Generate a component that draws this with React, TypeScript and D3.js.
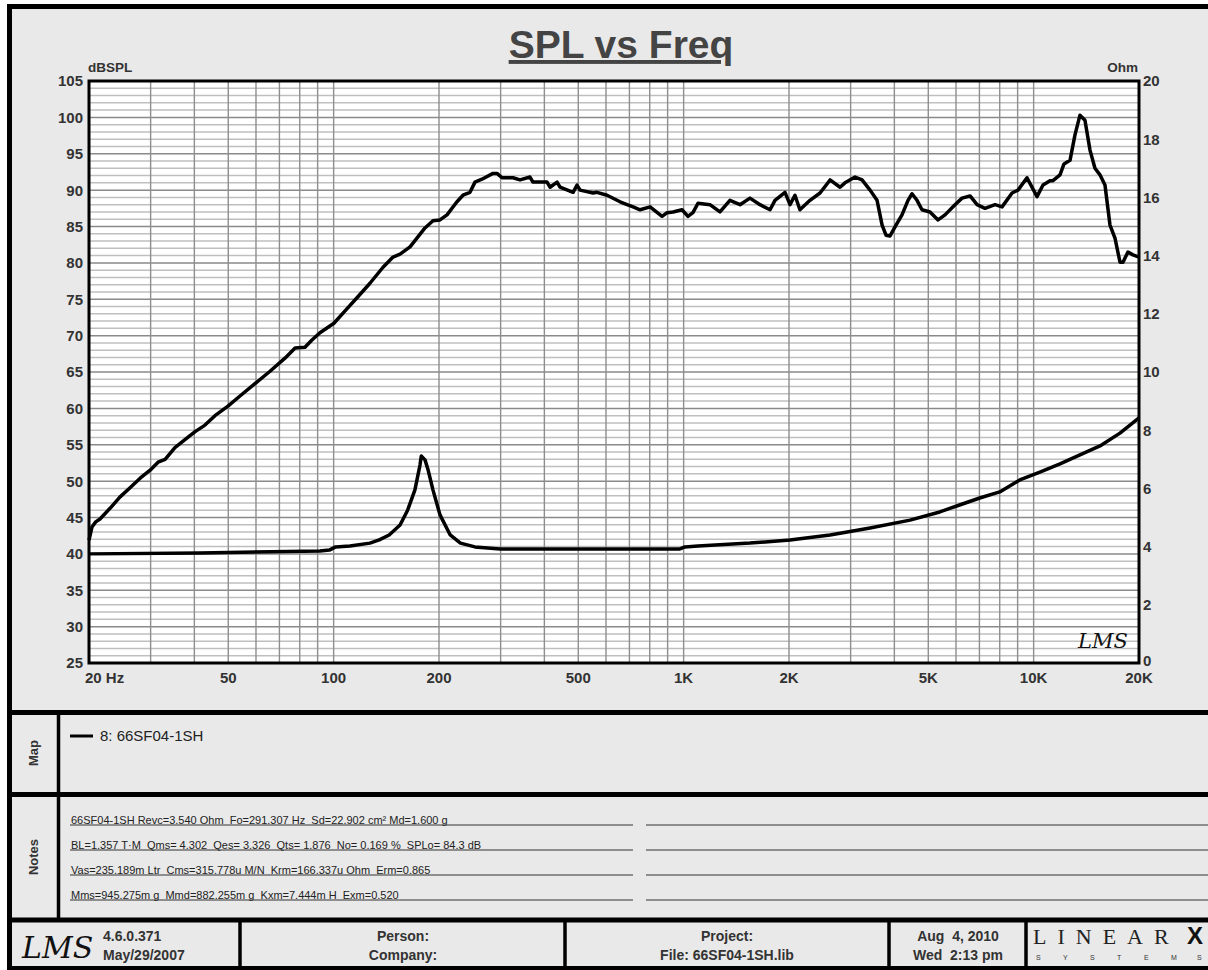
import React from "react";
import * as d3 from "d3";

// SPL curve (Hz / dBSPL)
const splFreq = [
  20, 20.4, 20.9, 21.5, 23.0, 24.5, 26.2, 28.0, 29.9, 31.5, 33.0, 35.2, 37.6, 40.2, 42.9, 45.8,
  49.9, 54.0, 59.6, 65.8, 72.6, 77.6, 82.8, 86.7, 91.4, 100.2, 107.8, 116.6, 127.0, 138.4, 147.8,
  154.8, 165.3, 182.4, 192.2, 201.3, 210.8, 225.1, 234.2, 245.2, 253.4, 265.3, 285.3, 292.9, 302.7,
  325.4, 340.8, 363.9, 371.2, 407.1, 415.2, 434.8, 443.5, 483.2, 495.9, 505.9, 551.0, 565.7, 604.0,
  658.2, 689.3, 717.1, 750.9, 801.9, 867.7, 896.6, 932.7, 989.6, 1029, 1063, 1099, 1189, 1270, 1356,
  1449, 1547, 1653, 1765, 1824, 1948, 2013, 2080, 2149, 2296, 2453, 2620, 2798, 2891, 3088, 3234,
  3409, 3570, 3690, 3786, 3888, 4044, 4206, 4376, 4493, 4643, 4798, 5057, 5332, 5583, 5961, 6243,
  6582, 6892, 7262, 7758, 8123, 8677, 9023, 9572, 10224, 10635, 11136, 11358, 11893, 12210, 12703,
  13126, 13564, 14016, 14488, 14970, 15472, 15989, 16524, 17078, 17648, 18000, 18600, 19220, 20000,
];
const splDb = [
  41.9, 43.7, 44.4, 44.8, 46.3, 47.8, 49.1, 50.4, 51.5, 52.6, 53.0, 54.6, 55.7, 56.8, 57.7, 59.0,
  60.3, 61.7, 63.4, 65.1, 66.9, 68.3, 68.4, 69.4, 70.4, 71.7, 73.4, 75.2, 77.2, 79.4, 80.8,
  81.2, 82.2, 84.8, 85.8, 85.9, 86.6, 88.4, 89.3, 89.7, 91.1, 91.5, 92.3, 92.3, 91.7,
  91.7, 91.4, 91.8, 91.1, 91.1, 90.4, 91.1, 90.4, 89.7, 90.7, 90.0, 89.6, 89.7, 89.3,
  88.4, 88.0, 87.7, 87.3, 87.7, 86.4, 86.9, 87.0, 87.3, 86.4, 86.9, 88.2, 88.0, 87.0, 88.6,
  88.0, 88.9, 88.0, 87.3, 88.6, 89.7, 88.0, 89.3, 87.3, 88.6, 89.6, 91.4, 90.4, 91.0, 91.8, 91.4,
  90.0, 88.6, 85.2, 83.8, 83.7, 85.2, 86.6, 88.6, 89.5, 88.6, 87.3, 87.0, 85.9, 86.6, 88.0, 88.9,
  89.2, 88.0, 87.5, 88.0, 87.7, 89.6, 90.0, 91.7, 89.1, 90.7, 91.3, 91.3, 92.1, 93.6, 94.1,
  97.6, 100.3, 99.6, 95.5, 93.0, 92.1, 90.7, 85.2, 83.4, 80.1, 80.1, 81.5, 81.1, 80.8,
];

// impedance curve (Hz / Ohm)
const zFreq = [
  20, 41.5, 91.4, 97.2, 101.3, 111.3, 127.0, 135.0, 144.1, 154.8, 162.8, 170.7, 176.5, 178,
  182.4, 186.2, 192.2, 201.3, 215.3, 230.3, 253.4, 298.9, 577, 976, 1009, 1099, 1547, 2013, 2620,
  3409, 4435, 5393, 6142, 7012, 8000, 9130, 10420, 11893, 13564, 15472, 17648, 20000,
];
const zOhm = [
  3.75, 3.78, 3.85, 3.88, 3.99, 4.02, 4.12, 4.23, 4.4, 4.74, 5.26, 5.95, 6.8, 7.11,
  6.98, 6.63, 5.95, 5.09, 4.4, 4.12, 3.99, 3.92, 3.92, 3.92, 3.99, 4.02, 4.12, 4.23, 4.4,
  4.64, 4.91, 5.19, 5.43, 5.67, 5.88, 6.29, 6.56, 6.84, 7.15, 7.46, 7.9, 8.42,
];

const freqTicks = [20, 50, 100, 200, 500, 1000, 2000, 5000, 10000, 20000];
const freqLabels = ["20 Hz", "50", "100", "200", "500", "1K", "2K", "5K", "10K", "20K"];
const dbTicks = [25, 30, 35, 40, 45, 50, 55, 60, 65, 70, 75, 80, 85, 90, 95, 100, 105];
const ohmTicks = [0, 2, 4, 6, 8, 10, 12, 14, 16, 18, 20];

const legendLabel = "8: 66SF04-1SH";
const notes = [
  "66SF04-1SH Revc=3.540 Ohm  Fo=291.307 Hz  Sd=22.902 cm² Md=1.600 g",
  "BL=1.357 T·M  Qms= 4.302  Qes= 3.326  Qts= 1.876  No= 0.169 %  SPLo= 84.3 dB",
  "Vas=235.189m Ltr  Cms=315.778u M/N  Krm=166.337u Ohm  Erm=0.865",
  "Mms=945.275m g  Mmd=882.255m g  Kxm=7.444m H  Exm=0.520",
];

const font = "'Liberation Sans', Arial, sans-serif";
const ink = "#333";
const panel = "#e9e9e9";

export default function App() {
  const plot = { left: 89, right: 1139, top: 81, bottom: 663 };
  const x = d3.scaleLog().domain([20, 20000]).range([plot.left, plot.right]);
  const y = d3.scaleLinear().domain([25, 105]).range([plot.bottom, plot.top]);
  const yz = d3.scaleLinear().domain([0, 20]).range([plot.bottom, plot.top]);

  const splPath = d3
    .line<number>()
    .x((_, i) => x(splFreq[i]))
    .y((d) => y(d))(splDb);
  const zPath = d3
    .line<number>()
    .x((_, i) => x(zFreq[i]))
    .y((d) => yz(d))(zOhm);

  // vertical grid: 1-2-3..9 per decade
  const vgrid: number[] = [];
  [10, 100, 1000, 10000].forEach((dec) => {
    for (let m = 1; m <= 9; m++) {
      const f = m * dec;
      if (f > 20 && f < 20000) vgrid.push(f);
    }
  });
  const hgrid = d3.range(26, 105);

  const bold = { fontFamily: font, fontWeight: 700, fill: ink };

  return (
    <svg
      width={1208}
      height={970}
      style={{ position: "absolute", left: 0, top: 0, background: "#fff" }}
    >
      {/* outer frame */}
      <rect x={9.5} y={6.5} width={1210} height={962} fill={panel} stroke="#000" strokeWidth={5} />

      {/* title */}
      <text
        x={621}
        y={58}
        textAnchor="middle"
        style={{ ...bold, fontSize: 39, fill: "#444", textDecoration: "underline" }}
      >
        SPL vs Freq
      </text>

      {/* plot */}
      <rect x={plot.left} y={plot.top} width={plot.right - plot.left} height={plot.bottom - plot.top} fill="#fff" />
      {hgrid.map((d) => (
        <line
          key={"h" + d}
          x1={plot.left}
          x2={plot.right}
          y1={y(d)}
          y2={y(d)}
          stroke={d % 5 === 0 ? "#8a8a8a" : "#bfbfbf"}
          strokeWidth={1.5}
        />
      ))}
      {vgrid.map((f) => (
        <line key={"v" + f} x1={x(f)} x2={x(f)} y1={plot.top} y2={plot.bottom} stroke="#8e8e8e" strokeWidth={1.4} />
      ))}

      <path d={zPath || ""} fill="none" stroke="#000" strokeWidth={3.5} strokeLinejoin="round" />
      <path d={splPath || ""} fill="none" stroke="#000" strokeWidth={3.5} strokeLinejoin="round" />

      <rect
        x={plot.left}
        y={plot.top}
        width={plot.right - plot.left}
        height={plot.bottom - plot.top}
        fill="none"
        stroke="#000"
        strokeWidth={3}
      />

      {/* left axis */}
      {dbTicks.map((d) => (
        <text key={"l" + d} x={83} y={y(d)} dy="0.36em" textAnchor="end" style={{ ...bold, fontSize: 15 }}>
          {d}
        </text>
      ))}
      <text x={88} y={72} style={{ ...bold, fontSize: 13.5 }}>dBSPL</text>

      {/* right axis */}
      {ohmTicks.map((d) => (
        <text
          key={"r" + d}
          x={1143}
          y={yz(d) - (d === 0 ? 2 : 0)}
          dy="0.36em"
          style={{ ...bold, fontSize: 15 }}
        >
          {d}
        </text>
      ))}
      <text x={1138} y={72} textAnchor="end" style={{ ...bold, fontSize: 13.5 }}>Ohm</text>

      {/* bottom axis */}
      {freqTicks.map((f, i) => (
        <text
          key={"b" + f}
          x={i === 0 ? x(f) - 4 : x(f)}
          y={683}
          textAnchor={i === 0 ? "start" : "middle"}
          style={{ ...bold, fontSize: 15 }}
        >
          {freqLabels[i]}
        </text>
      ))}

      <text x={1078} y={648} style={{ fontFamily: "'DejaVu Serif', serif", fontStyle: "italic", fontSize: 21, fill: "#111" }}>
        LMS
      </text>

      {/* panel separators */}
      <line x1={7} x2={1208} y1={712.5} y2={712.5} stroke="#000" strokeWidth={5} />
      <line x1={7} x2={1208} y1={794.5} y2={794.5} stroke="#000" strokeWidth={5} />
      <line x1={7} x2={1208} y1={920} y2={920} stroke="#000" strokeWidth={5} />
      <line x1={58.5} x2={58.5} y1={712} y2={920} stroke="#000" strokeWidth={3.5} />
      {[240, 565, 889, 1026].map((d) => (
        <line key={"f" + d} x1={d} x2={d} y1={920} y2={968} stroke="#000" strokeWidth={3.5} />
      ))}

      {/* map */}
      <text transform="translate(38,753) rotate(-90)" textAnchor="middle" style={{ ...bold, fontSize: 13 }}>Map</text>
      <line x1={70} x2={93} y1={736} y2={736} stroke="#000" strokeWidth={3} />
      <text x={100} y={741} style={{ fontFamily: font, fontSize: 15, fill: "#222" }}>{legendLabel}</text>

      {/* notes */}
      <text transform="translate(38,857) rotate(-90)" textAnchor="middle" style={{ ...bold, fontSize: 13 }}>Notes</text>
      {notes.map((t, i) => {
        const yy = 825 + i * 25;
        return (
          <g key={"n" + i}>
            <text x={71} y={yy - 1.5} style={{ fontFamily: font, fontSize: 11, fill: "#222", whiteSpace: "pre" }}>
              {t}
            </text>
            <line x1={70} x2={633} y1={yy} y2={yy} stroke="#333" strokeWidth={1} />
            <line x1={646} x2={1208} y1={yy} y2={yy} stroke="#333" strokeWidth={1} />
          </g>
        );
      })}

      {/* footer */}
      <text x={22} y={958} style={{ fontFamily: "'DejaVu Serif', serif", fontStyle: "italic", fontSize: 30, fill: "#111" }}>
        LMS
      </text>
      <text x={103} y={941} style={{ ...bold, fontSize: 14 }}>4.6.0.371</text>
      <text x={103} y={960} style={{ ...bold, fontSize: 14 }}>May/29/2007</text>
      <text x={403} y={941} textAnchor="middle" style={{ ...bold, fontSize: 14 }}>Person:</text>
      <text x={403} y={960} textAnchor="middle" style={{ ...bold, fontSize: 14 }}>Company:</text>
      <text x={727} y={941} textAnchor="middle" style={{ ...bold, fontSize: 14 }}>Project:</text>
      <text x={727} y={960} textAnchor="middle" style={{ ...bold, fontSize: 14 }}>File: 66SF04-1SH.lib</text>
      <text x={958} y={941} textAnchor="middle" style={{ ...bold, fontSize: 14, whiteSpace: "pre" }}>Aug  4, 2010</text>
      <text x={958} y={960} textAnchor="middle" style={{ ...bold, fontSize: 14, whiteSpace: "pre" }}>Wed  2:13 pm</text>

      <text x={1033} y={944} style={{ fontFamily: "'Liberation Serif', serif", fontSize: 22, fill: "#222", letterSpacing: 11 }}>
        LINEAR
      </text>
      <text x={1187} y={944} style={{ fontFamily: font, fontWeight: 900, fontSize: 24, fill: "#111" }}>X</text>
      <text
        x="1036 1063 1090 1117 1144 1171 1197"
        y={960}
        style={{ fontFamily: font, fontSize: 7, fill: "#333" }}
      >
        SYSTEMS
      </text>
    </svg>
  );
}
